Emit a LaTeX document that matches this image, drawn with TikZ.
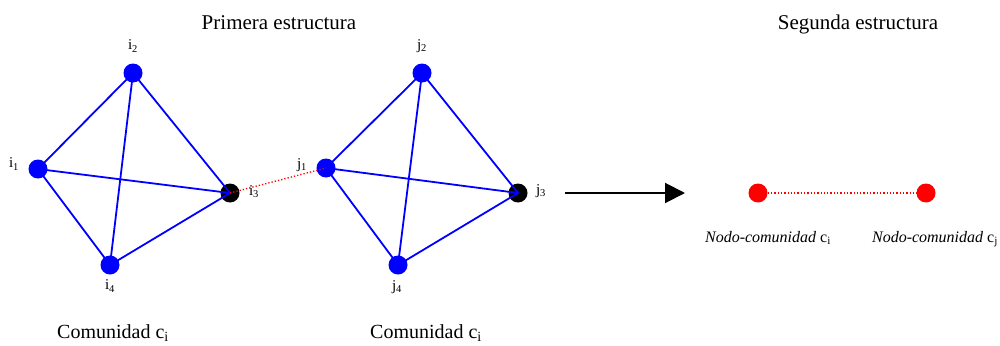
\documentclass[tikz,border=0pt]{standalone}
\usepackage{fontspec}
\setmainfont{Liberation Serif}
\usetikzlibrary{arrows.meta}

\begin{document}
\begin{tikzpicture}[x=1pt, y=-1pt,
  vert/.style={circle, fill=blue, minimum size=19pt, inner sep=0pt},
  hub/.style={circle, fill=black, minimum size=19pt, inner sep=0pt},
  cnode/.style={circle, fill=red, minimum size=19pt, inner sep=0pt},
  edge/.style={blue, line width=1.8pt},
  link/.style={red, dotted, line width=1.3pt},
  lab/.style={font=\fontsize{15}{17}\selectfont},
  head/.style={font=\fontsize{21}{25}\selectfont, anchor=base},
  cname/.style={font=\fontsize{20}{24}\selectfont, anchor=base}]
\useasboundingbox (0,0) rectangle (1000,345);
% titles
\node[head] (t1) at (279,30) {Primera estructura};
\node[head] (t2) at (858,30) {Segunda estructura};
% first community
\node[vert] (i1) at (38,169) {};
\node[vert] (i2) at (133,73) {};
\node[hub]  (i3) at (230,193) {};
\node[vert] (i4) at (110,265) {};
\node[lab] (li1) at (14,164) {i\textsubscript{1}};
\node[lab] (li2) at (133,46) {i\textsubscript{2}};
\node[lab] (li3) at (254,192) {i\textsubscript{3}};
\node[lab] (li4) at (110,286) {i\textsubscript{4}};
% second community
\node[vert] (j1) at (326,168) {};
\node[vert] (j2) at (422,73) {};
\node[hub]  (j3) at (518,193) {};
\node[vert] (j4) at (398,265) {};
\node[lab] (lj1) at (302,165) {j\textsubscript{1}};
\node[lab] (lj2) at (422,46) {j\textsubscript{2}};
\node[lab] (lj3) at (541,191) {j\textsubscript{3}};
\node[lab] (lj4) at (397,287) {j\textsubscript{4}};
% edges
\draw[edge] (i1.center) -- (i2.center) -- (i3.center) -- (i4.center) -- (i1.center) -- (i3.center);
\draw[edge] (i2.center) -- (i4.center);
\draw[edge] (j1.center) -- (j2.center) -- (j3.center) -- (j4.center) -- (j1.center) -- (j3.center);
\draw[edge] (j2.center) -- (j4.center);
\draw[link] (i3.center) -- (j1.center);
% arrow
\coordinate (arrS) at (565,193);
\coordinate (arrE) at (685,193);
\draw[line width=2pt, -{Triangle[length=20pt, width=20pt]}] (arrS) -- (arrE);
% second structure
\node[cnode] (ci) at (758,193) {};
\node[cnode] (cj) at (926,193) {};
\draw[link] (ci) -- (cj);
\node[font=\fontsize{16}{18}\selectfont, anchor=base] (lci) at (768,242) {\textit{Nodo-comunidad} c\textsubscript{i}};
\node[font=\fontsize{16}{18}\selectfont, anchor=base] (lcj) at (935,242) {\textit{Nodo-comunidad} c\textsubscript{j}};
% community names
\node[cname] (ni) at (113,338) {Comunidad c\textsubscript{i}};
\node[cname] (nj) at (426,338) {Comunidad c\textsubscript{i}};
\end{tikzpicture}
\end{document}
